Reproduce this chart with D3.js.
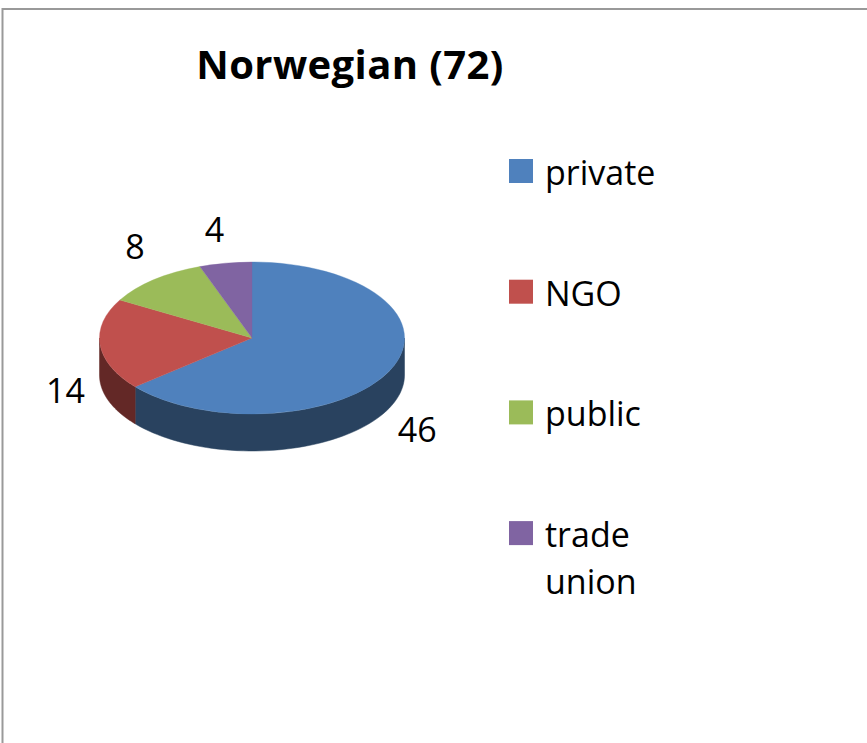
<!DOCTYPE html>
<html>
<head>
<meta charset="utf-8">
<script src="https://cdn.jsdelivr.net/npm/d3@7"></script>
<style>
  html, body { margin: 0; padding: 0; background: #fff; }
  svg { display: block; }
</style>
</head>
<body>
<svg id="chart" width="867" height="743"></svg>
<script>
// ---- data ----
const title = "Norwegian (72)";
const categories = ["private", "NGO", "public", "trade union"];
const values = [46, 14, 8, 4];
const topColors = ["#4F81BD", "#C0504D", "#9BBB59", "#8064A2"];
const sideColors = ["#29425F", "#632826", "#4E5E2C", "#403251"];

// ---- layout ----
const W = 867, H = 743;
const cx = 252, cy = 338, rx = 152.5, ry = 76, depth = 37;
const font = "'Open Sans', 'Liberation Sans', sans-serif";

const svg = d3.select("#chart");

// frame
svg.append("rect")
  .attr("x", 2.5).attr("y", 9)
  .attr("width", W + 20).attr("height", H + 20)
  .attr("fill", "#fff")
  .attr("stroke", "#999").attr("stroke-width", 2);

// title
svg.append("text")
  .attr("x", 350).attr("y", 79)
  .attr("text-anchor", "middle")
  .attr("font-family", font).attr("font-weight", "bold")
  .attr("font-size", 40).attr("letter-spacing", 0.4).attr("fill", "#000")
  .text(title);

const pieData = d3.pie().sort(null).value(d => d)(values);

const g = svg.append("g").attr("transform", `translate(${cx},${cy})`);

// point on ellipse for angle a (0 = 12 o'clock, clockwise)
const px = a => rx * Math.sin(a);
const py = a => -ry * Math.cos(a);

// outer walls (front half: angles between PI/2 and 3PI/2)
const lineGen = d3.line();
pieData.forEach((s, i) => {
  const a1 = Math.max(s.startAngle, Math.PI / 2);
  const a2 = Math.min(s.endAngle, 3 * Math.PI / 2);
  if (a2 <= a1) return;
  const steps = d3.range(0, 61).map(k => a1 + (a2 - a1) * k / 60);
  const topPts = steps.map(a => [px(a), py(a)]);
  const botPts = steps.slice().reverse().map(a => [px(a), py(a) + depth]);
  g.append("path")
    .attr("d", lineGen(topPts.concat(botPts)) + "Z")
    .attr("fill", sideColors[i])
    .attr("stroke", sideColors[i]).attr("stroke-width", 0.5);
});

// top faces
const arcGen = d3.arc().innerRadius(0).outerRadius(rx);
const topFace = g.append("g").attr("transform", `scale(1, ${ry / rx})`);
topFace.selectAll("path").data(pieData).join("path")
  .attr("d", arcGen)
  .attr("fill", (d, i) => topColors[i])
  .attr("stroke", (d, i) => topColors[i]).attr("stroke-width", 0.5);

// data labels
const labelNudge = [[0, 12], [-5, 6], [0, -16], [-6, -12]];
pieData.forEach((s, i) => {
  const m = (s.startAngle + s.endAngle) / 2;
  const x = 1.195 * px(m) + labelNudge[i][0];
  const y = 1.3 * py(m) + (Math.cos(m) < 0 ? depth : 0) + labelNudge[i][1];
  g.append("text")
    .attr("x", x).attr("y", y)
    .attr("text-anchor", "middle")
    .attr("dominant-baseline", "central")
    .attr("font-family", font).attr("font-size", 34).attr("fill", "#000")
    .text(s.data);
});

// legend
const legend = svg.append("g");
categories.forEach((c, i) => {
  const y0 = 159 + i * 120.7;
  legend.append("rect")
    .attr("x", 509).attr("y", y0).attr("width", 24).attr("height", 24)
    .attr("fill", topColors[i]);
  const words = c.split(" ");
  const t = legend.append("text")
    .attr("font-family", font).attr("font-size", 34).attr("fill", "#000");
  words.forEach((w, j) => {
    t.append("tspan").attr("x", 545).attr("y", y0 + 26 + j * 47).text(w);
  });
});
</script>
</body>
</html>
